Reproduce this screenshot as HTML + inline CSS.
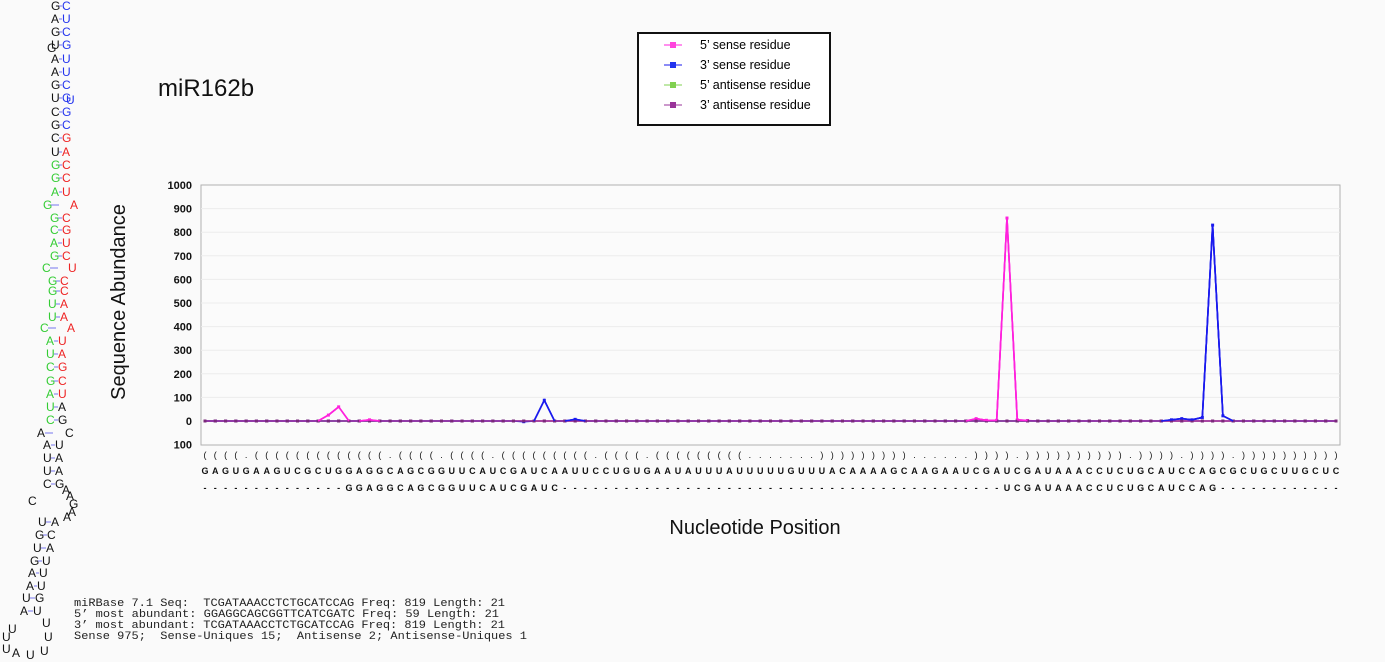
<!DOCTYPE html>
<html><head><meta charset="utf-8"><style>
body{margin:0;background:#fafafa;width:1385px;height:662px;overflow:hidden;position:relative;font-family:"Liberation Sans",sans-serif}
svg{position:absolute;left:0;top:0}
</style></head><body>
<svg id="s" width="1385" height="662"></svg>
<script>
const categories = "GAGUGAAGUCGCUGGAGGCAGCGGUUCAUCGAUCAAUUCCUGUGAAUAUUUAUUUUUGUUUACAAAAGCAAGAAUCGAUCGAUAAACCUCUGCAUCCAGCGCUGCUUGCUC".split("");
const structure = "((((.(((((((((((((.((((.((((.(((((((((.((((.(((((((((.......)))))))))......)))).)))))))))).)))).)))).))))))))))..)))))))))".split("");
const readRow = "--------------GGAGGCAGCGGUUCAUCGAUC-------------------------------------------UCGAUAAACCUCUGCAUCCAG--------------".split("");
const sense5 = {11:0,12:25,13:60,16:5,75:10,76:3,77:3,78:860,79:5,80:2};
const sense3 = {31:-3,33:88,36:7,94:5,95:10,96:5,97:15,98:830,99:22};
const anti5 = {};
const anti3 = {};
const yTicks = [1000,900,800,700,600,500,400,300,200,100,0,-100];
const N = categories.length;
const X0=205, X1=1336, PL=201, PR=1340, YT=185, YB=445;
const xs = i => X0 + (X1-X0)*i/(N-1);
const ys = v => 421 - v*0.236;
const svg = document.getElementById('s');
const NS="http://www.w3.org/2000/svg";
function mk(t,a,p){const e=document.createElementNS(NS,t);for(const k in a)e.setAttribute(k,a[k]);(p||svg).appendChild(e);return e;}
function tx(x,y,s,a){const e=mk('text',Object.assign({x:x,y:y},a));e.textContent=s;return e;}

let fr=mk('rect',{x:PL,y:YT,width:PR-PL,height:YB-YT,fill:'#fbfbfb',stroke:'#b0b0b0'});


yTicks.forEach(v=>{
  const y=ys(v);
  if(v<1000&&v>-100){let g=mk('line',{x1:PL,x2:PR,y1:y,y2:y,stroke:'#ececec'});
  
  }
  let t=tx(192,y+4,String(Math.abs(v)),{'text-anchor':'end','font-size':'11','font-weight':'bold',fill:'#111'});
  
  
});
function series(d,color,name){
  const pts=categories.map((c,i)=>[xs(i),ys(d[i]||0)]);
  let p=mk('polyline',{points:pts.map(q=>q.join(',')).join(' '),fill:'none',stroke:color,'stroke-width':'1.6'});
  
  
  pts.forEach(q=>{let r=mk('rect',{x:q[0]-1.5,y:q[1]-1.5,width:3,height:3,fill:color});
    
    });
}
series(anti5,'#80d050','antisense5');
series(sense5,'#ff22dd','sense5');
series(sense3,'#1a1aee','sense3');
(function(){
  const pts=categories.map((c,i)=>[xs(i),ys(anti3[i]||0)]);
  let p=mk('polyline',{points:pts.map(q=>q.join(',')).join(' '),fill:'none',stroke:'#993399','stroke-width':'1.6'});
  
  
  pts.forEach(q=>{let r=mk('rect',{x:q[0]-1.5,y:q[1]-1.5,width:3,height:3,fill:'#7a2a7a'});
    
    });
  [[sense5,'#ff22dd'],[sense3,'#1a1aee']].forEach(([d,c])=>{
    Object.keys(d).forEach(k=>{const i=+k;if(d[i]>2){
      [[i-1,i],[i,i+1]].forEach(([a,b])=>{let l=mk('line',{x1:xs(a),y1:ys(d[a]||0),x2:xs(b),y2:ys(d[b]||0),stroke:c,'stroke-width':'1.6'});
      
      });
    }});
  });
})();
categories.forEach((c,i)=>{
  let a=tx(xs(i),458,structure[i]||'.',{'text-anchor':'middle','font-size':'9',fill:'#111'});
  
  
  let b=tx(xs(i),474,c,{'text-anchor':'middle','font-size':'9','font-weight':'bold',fill:'#111'});
  
  
  let r=tx(xs(i),491,readRow[i]||'-',{'text-anchor':'middle','font-size':'9','font-weight':'bold',fill:'#111'});
  
  
});
</script>
<svg width="1385" height="662" style="pointer-events:none">
<text x="158" y="96" font-size="24" fill="#111">miR162b</text>
<text transform="translate(125,302) rotate(-90)" text-anchor="middle" font-size="20" fill="#111">Sequence Abundance</text>
<text x="755" y="534" text-anchor="middle" font-size="20" fill="#111">Nucleotide Position</text>
<g>
<rect x="638" y="33" width="192" height="92" fill="#fff" stroke="#111" stroke-width="2"/>
<g><line x1="664" x2="682" y1="45" y2="45" stroke="#ff22dd"/><rect x="670" y="42" width="6" height="6" fill="#ff44dd"/><text x="700" y="49" font-size="12.5">5’ sense residue</text></g>
<g><line x1="664" x2="682" y1="65" y2="65" stroke="#1a1aee"/><rect x="670" y="62" width="6" height="6" fill="#2233ee"/><text x="700" y="69" font-size="12.5">3’ sense residue</text></g>
<g><line x1="664" x2="682" y1="85" y2="85" stroke="#80d050"/><rect x="670" y="82" width="6" height="6" fill="#80d050"/><text x="700" y="89" font-size="12.5">5’ antisense residue</text></g>
<g><line x1="664" x2="682" y1="105" y2="105" stroke="#993399"/><rect x="670" y="102" width="6" height="6" fill="#993399"/><text x="700" y="109" font-size="12.5">3’ antisense residue</text></g>
</g>
<g style="font-family:'Liberation Mono',monospace" font-size="11" fill="#222">
<text x="74" y="606" xml:space="preserve" textLength="431" lengthAdjust="spacingAndGlyphs">miRBase 7.1 Seq:  TCGATAAACCTCTGCATCCAG Freq: 819 Length: 21</text>
<text x="74" y="617" xml:space="preserve" textLength="425" lengthAdjust="spacingAndGlyphs">5’ most abundant: GGAGGCAGCGGTTCATCGATC Freq: 59 Length: 21</text>
<text x="74" y="628" xml:space="preserve" textLength="431" lengthAdjust="spacingAndGlyphs">3’ most abundant: TCGATAAACCTCTGCATCCAG Freq: 819 Length: 21</text>
<text x="74" y="639" xml:space="preserve" textLength="453" lengthAdjust="spacingAndGlyphs">Sense 975;  Sense-Uniques 15;  Antisense 2; Antisense-Uniques 1</text>
</g>
<g font-size="12" id="hp"></g>
</svg>
<script>
const hp=document.getElementById('hp');
const K='#111',B='#2233ee',R='#ee2222',G='#33cc33';
const rows=[
[51,10,'G',K,62,'C',B],[51,23,'A',K,62,'U',B],[51,36,'G',K,62,'C',B],[51,49,'U',K,62,'G',B],[51,63,'A',K,62,'U',B],
[51,76,'A',K,62,'U',B],[51,89,'G',K,62,'C',B],[51,102,'U',K,62,'G',B],[51,116,'C',K,62,'G',B],[51,129,'G',K,62,'C',B],
[51,142,'C',K,62,'G',R],[51,156,'U',K,62,'A',R],[51,169,'G',G,62,'C',R],[51,182,'G',G,62,'C',R],[51,196,'A',G,62,'U',R],
[43,209,'G',G,70,'A',R],[50,222,'G',G,62,'C',R],[50,234,'C',G,62,'G',R],[50,247,'A',G,62,'U',R],[50,260,'G',G,62,'C',R],
[42,272,'C',G,68,'U',R],[48,285,'G',G,60,'C',R],[48,295,'G',G,60,'C',R],[48,308,'U',G,60,'A',R],[48,321,'U',G,60,'A',R],
[40,332,'C',G,67,'A',R],[46,345,'A',G,58,'U',R],[46,358,'U',G,58,'A',R],[46,371,'C',G,58,'G',R],[46,385,'G',G,58,'C',R],
[46,398,'A',G,58,'U',R],[46,411,'U',G,58,'A',K],[46,424,'C',G,58,'G',K],[37,437,'A',K,65,'C',K],[43,449,'A',K,55,'U',K],
[43,462,'U',K,55,'A',K],[43,475,'U',K,55,'A',K],[43,488,'C',K,55,'G',K],[28,505,'C',K,null],
[38,526,'U',K,51,'A',K],[35,539,'G',K,47,'C',K],[33,552,'U',K,46,'A',K],[30,565,'G',K,42,'U',K],[28,577,'A',K,39,'U',K],
[26,590,'A',K,37,'U',K],[22,602,'U',K,35,'G',K],[20,615,'A',K,33,'U',K]];
const NS2="http://www.w3.org/2000/svg";
function t(x,y,s,c){const e=document.createElementNS(NS2,'text');e.setAttribute('x',x);e.setAttribute('y',y);e.setAttribute('fill',c);e.textContent=s;hp.appendChild(e);

}
rows.forEach(r=>{t(r[0],r[1],r[2],r[3]);if(r[4]!=null){t(r[4],r[1],r[5],r[6]);
 const l=document.createElementNS(NS2,'line');l.setAttribute('x1',r[0]+8);l.setAttribute('x2',Math.min(r[4],r[0]+16));l.setAttribute('y1',r[1]-4);l.setAttribute('y2',r[1]-4);l.setAttribute('stroke','#7777ee');hp.appendChild(l);}});
[[8,633,'U'],[2,641,'U'],[2,653,'U'],[12,657,'A'],[26,659,'U'],[40,655,'U'],[44,641,'U'],[42,627,'U'],[47,52,'G'],[66,104,'U'],
[62,494,'A'],[66,500,'A'],[69,508,'G'],[68,516,'A'],[63,521,'A']].forEach(r=>t(r[0],r[1],r[2],r[2]=='U'&&r[1]<200?B:K));
</script>
</body></html>
